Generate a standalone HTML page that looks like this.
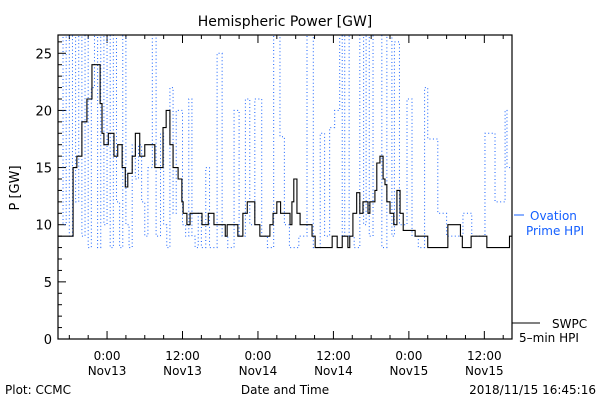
<!DOCTYPE html>
<html><head><meta charset="utf-8"><style>
body{margin:0;background:#fff;}
svg{display:block;font-family:"DejaVu Sans","Liberation Sans",sans-serif;}
</style></head><body>
<svg id="chart" width="600" height="400" viewBox="0 0 600 400">
<text x="285" y="26" text-anchor="middle" font-size="14">Hemispheric Power [GW]</text>
<text transform="translate(19,188) rotate(-90)" text-anchor="middle" font-size="13">P [GW]</text>
<text x="285" y="394" text-anchor="middle" font-size="12">Date and Time</text>
<text x="5" y="394" font-size="12">Plot: CCMC</text>
<text x="596" y="394" text-anchor="end" font-size="12">2018/11/15 16:45:16</text>
<g id="ticks"></g>
<g id="series"></g>
<rect x="58" y="35" width="454" height="304" fill="none" stroke="#000" stroke-width="1.2"/>
<line x1="514" y1="215" x2="524" y2="215" stroke="#1560ff"/>
<text x="530" y="220" font-size="12" fill="#1560ff">Ovation</text>
<text x="526" y="235" font-size="12" fill="#1560ff">Prime HPI</text>
<line x1="512" y1="323" x2="540" y2="323" stroke="#000"/>
<text x="552" y="328" font-size="12">SWPC</text>
<text x="519" y="342" font-size="12">5–min HPI</text>
</svg>
<script>
// hours relative to Nov13 00:00
const swpcTimes=[-7.8,-5.4,-4.8,-4.0,-3.2,-3.0,-2.4,-1.1,-0.8,-0.5,0.2,1.1,1.7,2.4,2.9,3.3,4.0,4.5,5.2,6.0,7.6,8.9,9.4,10.0,10.5,11.3,11.9,12.1,12.7,13.2,15.1,16.1,17.0,18.8,19.1,20.8,21.6,22.3,23.5,24.3,25.9,26.4,27.0,27.6,29.1,29.4,29.7,30.2,30.7,32.6,33.1,35.1,35.8,36.6,37.4,38.3,38.6,39.1,39.7,40.2,40.7,41.5,41.8,42.6,42.9,43.4,43.9,44.2,44.5,45.0,45.6,46.1,46.6,47.1,49.0,51.0,54.2,56.2,56.5,57.9,58.2,60.4,64.0];
const swpcValues=[9,15,16,19,21,21,24,20.6,18,17,18,16,17,15,13.3,14.5,16,18,16,17,15,18.5,20,17,15,14,12,11,10,11,10,11,10,9,10,9,11,12,10,9,10,11,12,11,10,12,14,11,10,9,8,8,9,8,9,8,9,11,12.8,11,12,11,12,13,15.4,16,14,13.5,12,11,10,13,11,9.5,9,8,10,9,8,9,9,8,9,10];
const ovTimes=[-7.8,-7,-6.5,-6,-5.5,-5,-4.5,-4,-3.5,-3,-2.5,-2,-1.5,-1,-0.5,0,0.5,1,1.5,2,2.5,3,3.5,4,4.5,5,5.5,6,6.5,7.2,7.8,8.5,9,9.5,10,10.5,11,12,12.5,13,13.5,14,14.5,15,15.7,16.3,17.5,18.3,19.2,20.2,21,22,22.7,23.5,24.6,25.5,26.5,27.5,28.2,29,30.5,31.8,32.8,33.9,34.6,35.4,36.2,37,37.4,37.8,38.5,39.3,40.2,40.8,41.2,41.7,42.3,43.7,44.5,45.3,45.7,46.5,47.7,48.5,49.5,50.5,51,52.6,54,56.6,58,60.1,61.7,63.3,63.6,64.4];
const ovValues=[27,10,27,9,27,12,27,9,27,8,22,27,8,27,10,27,8,27,12,8,27,10,8,17,14,17,12,9,15,27,9,18,10,8,22,11,20,10,9,21,9,8,11,8,15,8,25,9,8,20,9,21,10,21,9,8,27,17.7,10,8,9,27,8,18,9,18.5,20,27,9,27,9,8,27,10,27,9,27,8,27,9,26,10,21,9,8,22,17.5,11,9,11,9,18,12,20,15,11];
const yTicks=[0,5,10,15,20,25];
const xTicks=[0,12,24,36,48,60];
const xTop=["0:00","12:00","0:00","12:00","0:00","12:00"];
const xBot=["Nov13","Nov13","Nov14","Nov14","Nov15","Nov15"];
const NS="http://www.w3.org/2000/svg";
const X0=58,X1=512,Y0=339,Y1=35,TMIN=-7.8,TMAX=64.4,VMAX=26.6;
const xs=t=>X0+(t-TMIN)/(TMAX-TMIN)*(X1-X0);
const ys=v=>Y0-Math.min(v,VMAX)/VMAX*(Y0-Y1);
const tg=document.getElementById('ticks'),sg=document.getElementById('series');
function mk(tag,attrs,parent){const e=document.createElementNS(NS,tag);for(const k in attrs)e.setAttribute(k,attrs[k]);parent.appendChild(e);return e;}
for(let v=0;v<=26;v++){const y=ys(v);const L=v%5===0?8:4;
 const t=mk('line',{x1:X0,x2:X0+L,y1:y,y2:y,stroke:'#000'},tg);
 
 }
yTicks.forEach(v=>{const t=mk('text',{x:X0-6,y:ys(v)+5,'text-anchor':'end','font-size':13},tg);t.textContent=v;
 
 });
for(let h=-6;h<=63;h+=3){const x=xs(h);const L=h%12===0?8:4;
 const t=mk('line',{x1:x,x2:x,y1:Y0,y2:Y0-L,stroke:'#000'},tg);
 
 
 const u=mk('line',{x1:x,x2:x,y1:Y1,y2:Y1+L,stroke:'#000'},tg);
 
 }
xTicks.forEach((h,i)=>{const x=xs(h);
 const a=mk('text',{x:x,y:360,'text-anchor':'middle','font-size':12},tg);a.textContent=xTop[i];
 
 
 const b=mk('text',{x:x,y:375,'text-anchor':'middle','font-size':12},tg);b.textContent=xBot[i];
 
 });
function stepPath(T,V){let d='';for(let i=0;i<T.length;i++){const x=xs(T[i]),y=ys(V[i]);
 if(i===0)d+='M'+x+' '+y;else d+='H'+x+'V'+y;}
 d+='H'+X1;return d;}
const ov=mk('path',{d:stepPath(ovTimes,ovValues),fill:'none',stroke:'#1560ff','stroke-width':1,'stroke-dasharray':'1 2.5'},sg);


const sw=mk('path',{d:stepPath(swpcTimes,swpcValues),fill:'none',stroke:'#000','stroke-width':1.1},sg);


</script>
</body></html>
